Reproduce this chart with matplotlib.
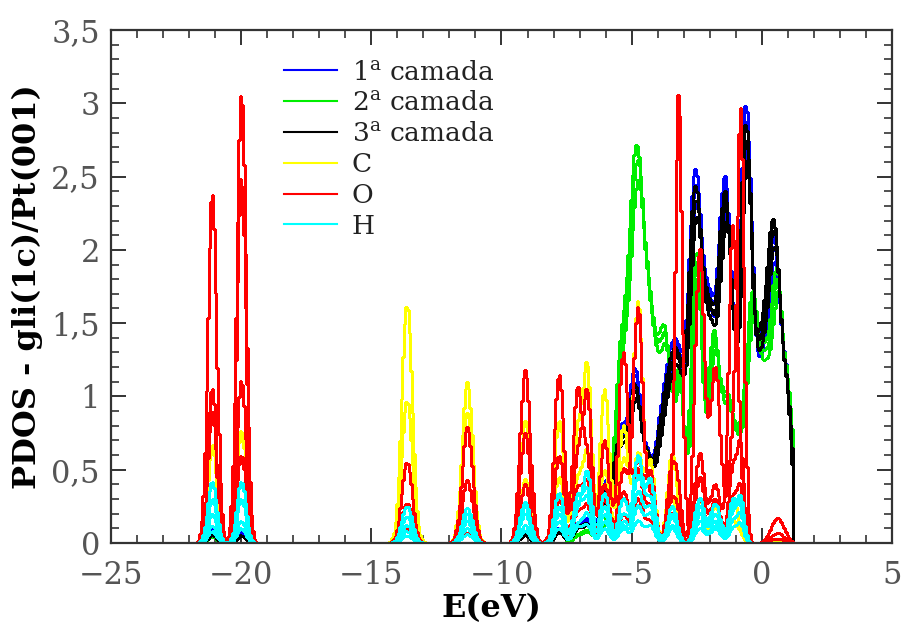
import numpy as np
import matplotlib.pyplot as plt
from matplotlib.ticker import MultipleLocator, FuncFormatter

# energy grid of the projected DOS (eV); states above e_top are empty
e_start, e_top, de = -22.0, 1.2, 0.06

# Pt layers: gaussian components (centre eV, width eV, height)
pt1_centre = [-21.12, -20.0, -9.1, -7.8, -7.1, -6.7, -6.1, -5.9, -5.4, -4.85, -4.4, -3.8, -3.25,
              -2.55, -2.0, -1.4, -0.95, -0.6, -0.05, 0.5, 1.0]
pt1_width = [0.17, 0.17, 0.18, 0.18, 0.18, 0.18, 0.18, 0.25, 0.25, 0.22, 0.2, 0.3, 0.3,
             0.25, 0.25, 0.25, 0.2, 0.2, 0.3, 0.25, 0.2]
pt1_height = [0.1, 0.08, 0.08, 0.1, 0.12, 0.15, 0.15, 0.25, 0.7, 1.05, 0.4, 0.75, 1.15,
              2.25, 1.35, 2.3, 0.45, 2.55, 1.15, 1.75, 0.85]

pt3_centre = pt1_centre
pt3_width = pt1_width
pt3_height = [0.06, 0.05, 0.06, 0.08, 0.1, 0.12, 0.12, 0.22, 0.65, 0.95, 0.4, 0.7, 1.1,
              2.15, 1.3, 2.2, 0.5, 2.4, 1.2, 1.85, 0.75]

pt2_centre = [-21.12, -20.0, -7.1, -6.7, -6.1, -5.4, -4.8, -4.25, -3.7, -3.15,
              -2.5, -1.85, -1.3, -0.85, -0.35, 0.15, 0.6, 1.05]
pt2_width = [0.17, 0.17, 0.18, 0.18, 0.18, 0.25, 0.28, 0.25, 0.25, 0.18,
             0.2, 0.22, 0.25, 0.2, 0.25, 0.2, 0.22, 0.18]
pt2_height = [0.05, 0.05, 0.05, 0.08, 0.1, 1.1, 2.45, 1.15, 1.3, 1.0,
              1.9, 1.3, 0.9, 0.4, 1.6, 0.9, 1.7, 0.8]

# spread between the atoms of one layer
atom_scale = [1.0, 0.95, 1.04]
atom_shift = [0.0, 0.03, -0.03]

# adsorbate peaks, one row of heights per atom projection
ads_centre = [-21.12, -20.0, -13.64, -11.32, -9.1, -7.8, -7.1, -6.72, -6.05, -5.33,
              -4.77, -4.3, -3.45, -3.2, -2.4, -1.8, -1.12, -0.82, 0.6]
ads_width = [0.17, 0.17, 0.2, 0.2, 0.19, 0.18, 0.17, 0.17, 0.18, 0.18,
             0.18, 0.18, 0.18, 0.13, 0.18, 0.2, 0.16, 0.13, 0.25]

o_height = [
    [2.39, 1.11, 0.27, 0.43, 1.18, 0.6, 1.02, 0.55, 0.7, 1.3, 0.55, 0.48, 0.2, 3.0, 0.61, 0.4, 2.15, 0.3, 0.03],
    [1.06, 3.07, 0.55, 0.79, 0.75, 1.15, 0.55, 1.0, 0.4, 0.5, 1.6, 0.3, 0.52, 0.2, 2.0, 1.2, 0.7, 2.85, 0.17],
    [0.3, 2.5, 0.1, 0.07, 0.4, 0.3, 0.35, 0.4, 0.3, 0.35, 0.5, 0.25, 0.3, 0.1, 0.45, 0.3, 0.5, 0.6, 0.07],
    [0.9, 0.6, 0.05, 0.15, 0.2, 0.2, 0.2, 0.25, 0.15, 0.2, 0.3, 0.15, 0.2, 0.05, 0.3, 0.2, 0.3, 0.35, 0.03],
]
c_height = [
    [0.67, 0.3, 1.62, 0.89, 0.83, 0.45, 0.7, 1.17, 0.5, 0.57, 1.64, 0.3, 0.61, 0.0, 0.2, 0.25, 0.15, 0.05, 0.0],
    [0.3, 0.77, 0.97, 1.1, 0.44, 0.84, 0.4, 0.6, 1.05, 0.8, 0.6, 0.55, 0.3, 0.0, 0.3, 0.1, 0.3, 0.05, 0.01],
]
h_height = [
    [0.42, 0.1, 0.25, 0.24, 0.25, 0.34, 0.2, 0.48, 0.34, 0.2, 0.59, 0.3, 0.25, 0.0, 0.31, 0.15, 0.29, 0.2, 0.0],
    [0.2, 0.42, 0.18, 0.2, 0.28, 0.2, 0.3, 0.35, 0.25, 0.3, 0.45, 0.43, 0.2, 0.0, 0.25, 0.27, 0.2, 0.29, 0.0],
    [0.3, 0.3, 0.12, 0.15, 0.2, 0.25, 0.25, 0.3, 0.2, 0.15, 0.35, 0.25, 0.18, 0.0, 0.2, 0.2, 0.25, 0.25, 0.0],
    [0.12, 0.15, 0.08, 0.1, 0.12, 0.15, 0.12, 0.2, 0.15, 0.12, 0.25, 0.2, 0.12, 0.0, 0.15, 0.12, 0.15, 0.18, 0.0],
    [0.08, 0.1, 0.05, 0.06, 0.08, 0.1, 0.1, 0.12, 0.1, 0.1, 0.15, 0.12, 0.1, 0.0, 0.1, 0.1, 0.1, 0.12, 0.0],
]

energy = np.arange(e_start, e_top + de, de)


def smear(centre, width, height, shift=0.0, scale=1.0):
    pdos = np.zeros_like(energy)
    for c, w, h in zip(centre, width, height):
        pdos += h * np.exp(-0.5 * ((energy - c - shift) / w) ** 2)
    pdos[energy > e_top] = 0.0
    pdos[-1] = 0.0
    return scale * pdos


plt.rcParams['font.family'] = 'DejaVu Serif'
plt.rcParams['mathtext.fontset'] = 'dejavuserif'
fig = plt.figure(figsize=(9.01, 6.30), dpi=100)
ax = fig.add_axes([0.1232, 0.1381, 0.8668, 0.8143])

kw = dict(lw=0.8, drawstyle='steps-mid', antialiased=False)

layers = [('1$^\\mathregular{a}$ camada', '#0000ff', pt1_centre, pt1_width, pt1_height),
          ('2$^\\mathregular{a}$ camada', '#00ee00', pt2_centre, pt2_width, pt2_height),
          ('3$^\\mathregular{a}$ camada', '#000000', pt3_centre, pt3_width, pt3_height)]
for label, color, cen, wid, hei in layers:
    for i, (s, f) in enumerate(zip(atom_shift, atom_scale)):
        ax.plot(energy, smear(cen, wid, hei, s, f), color=color,
                label=label if i == 0 else None, **kw)

species = [('C', '#ffff00', c_height), ('O', '#ff0000', o_height), ('H', '#00ffff', h_height)]
for label, color, rows in species:
    for i, hei in enumerate(rows):
        ax.plot(energy, smear(ads_centre, ads_width, hei), color=color,
                label=label if i == 0 else None, **kw)

ax.set_xlim(-25, 5)
ax.set_ylim(0, 3.5)
ax.xaxis.set_major_locator(MultipleLocator(5))
ax.xaxis.set_minor_locator(MultipleLocator(1))
ax.yaxis.set_major_locator(MultipleLocator(0.5))
ax.yaxis.set_minor_locator(MultipleLocator(0.1))
ax.yaxis.set_major_formatter(FuncFormatter(lambda v, p: f'{v:g}'.replace('.', ',')))

for sp in ax.spines.values():
    sp.set_linewidth(1.6)
    sp.set_color('#333333')
    sp.set_zorder(5)
ax.tick_params(which='both', direction='in', top=True, right=True, color='#333333')
ax.tick_params(which='major', length=11, width=1.4, labelsize=22, labelcolor='#555555')
ax.tick_params(which='minor', length=6, width=1.2)
ax.tick_params(axis='x', which='major', pad=12)
ax.tick_params(axis='y', which='major', pad=8)

ax.set_xlabel('E(eV)', fontsize=23, fontweight='bold')
ax.xaxis.set_label_coords(0.487, -0.097)
ax.set_ylabel('PDOS - gli(1c)/Pt(001)', fontsize=23, fontweight='bold', labelpad=6)

leg = ax.legend(loc='upper left', bbox_to_anchor=(0.205, 0.968), frameon=False, fontsize=19,
                handlelength=2.0, handletextpad=0.55, labelspacing=0.22, borderpad=0.0)
for t in leg.get_texts():
    t.set_color('#222222')
for h in leg.get_lines():
    h.set_linewidth(1.5)
    h.set_antialiased(True)

fig.savefig('out.png', dpi=100)
